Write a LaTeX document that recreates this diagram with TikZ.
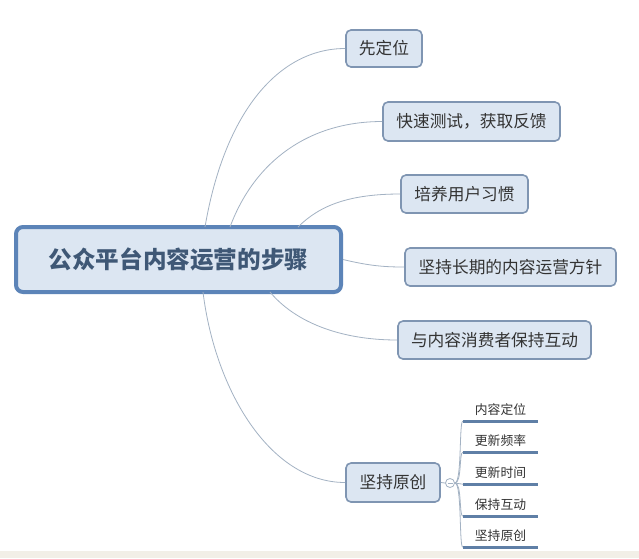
\documentclass[tikz,border=0pt]{standalone}
\usepackage{fontspec}
\setmainfont{Noto Sans CJK SC}
\usetikzlibrary{calc}
\definecolor{boxfill}{HTML}{DCE6F2}
\definecolor{leafborder}{HTML}{7F95B2}
\definecolor{rootborder}{HTML}{5C84B8}
\definecolor{roottext}{HTML}{3F5876}
\definecolor{leaftext}{HTML}{333333}
\definecolor{conn}{HTML}{A3B2C3}
\definecolor{subline}{HTML}{5F7FA6}
\definecolor{strip}{HTML}{F2EFE7}
\tikzset{
  rootbox/.style={draw=rootborder, line width=4pt, fill=boxfill, rounded corners=7pt,
    minimum width=325pt, minimum height=65pt, inner sep=0pt,
    font=\fontsize{23.6}{23.6}\selectfont\bfseries, text=roottext},
  leafbox/.style={draw=leafborder, line width=1.6pt, fill=boxfill, rounded corners=5pt,
    inner sep=0pt, font=\fontsize{16.7}{16.7}\selectfont, text=leaftext},
  subnode/.style={inner sep=0pt, minimum width=75pt, minimum height=22pt,
    font=\fontsize{12.8}{12.8}\selectfont, text=leaftext},
  connector/.style={draw=conn, line width=0.8pt},
  underline/.style={draw=subline, line width=2.6pt},
}
\begin{document}
\begin{tikzpicture}[x=1pt,y=-1pt]
\useasboundingbox (0,0) rectangle (639,558);
\fill[white] (0,0) rectangle (639,558);
\fill[strip] (0,551) rectangle (639,558);

% connector start points on the root
\coordinate (r1) at (205,227);
\coordinate (r2) at (230,227);
\coordinate (r3) at (298,227);
\coordinate (r5) at (270,292);
\coordinate (r6) at (203,292);

\node[rootbox] (root) at (178.5,259.5) {公众平台内容运营的步骤};

\node[leafbox, minimum width=76pt, minimum height=37pt] (n1) at (384,48.5) {先定位};
\node[leafbox, minimum width=177pt, minimum height=39pt] (n2) at (471.5,121.5) {快速测试，获取反馈};
\node[leafbox, minimum width=127pt, minimum height=38pt] (n3) at (464.5,194) {培养用户习惯};
\node[leafbox, minimum width=211pt, minimum height=38pt] (n4) at (510.5,267) {坚持长期的内容运营方针};
\node[leafbox, minimum width=193pt, minimum height=38pt] (n5) at (494.5,340) {与内容消费者保持互动};
\node[leafbox, minimum width=94pt, minimum height=39pt] (n6) at (393,482.5) {坚持原创};

\draw[connector] (r1) .. controls (225,110) and (280,48.5) .. (n1.west);
\draw[connector] (r2) .. controls (255,160) and (310,121.5) .. (n2.west);
\draw[connector] (r3) .. controls (320,205) and (350,194) .. (n3.west);
\draw[connector] (root.east) .. controls (370,266) and (385,267) .. (n4.west);
\draw[connector] (r5) .. controls (295,322) and (340,340) .. (n5.west);
\draw[connector] (r6) .. controls (215,390) and (270,482.5) .. (n6.west);

% sub-branches
\node[subnode] (s1) at (500.5,410) {内容定位};
\node[subnode] (s2) at (500.5,441) {更新频率};
\node[subnode] (s3) at (500.5,473) {更新时间};
\node[subnode] (s4) at (500.5,505) {保持互动};
\node[subnode] (s5) at (500.5,536) {坚持原创};

\node[circle, draw=conn, fill=white, line width=0.8pt, minimum size=9pt, inner sep=0pt] (c) at (450,483) {};
\draw[conn, line width=0.6pt] ($(c.center)+(-2.5,0)$) -- ($(c.center)+(2.5,0)$);
\draw[connector] (n6.east) -- (c.west);

\foreach \s in {s1,s2,s4,s5}{
  \draw[connector] (c.east) .. controls (462,483) and (459,0 |- \s.south west) .. (\s.south west);
}
\draw[connector] (c.east) -- (s3.south west);

\foreach \s in {s1,s2,s3,s4,s5}{
  \draw[underline] (\s.south west) -- (\s.south east);
}
\end{tikzpicture}
\end{document}
